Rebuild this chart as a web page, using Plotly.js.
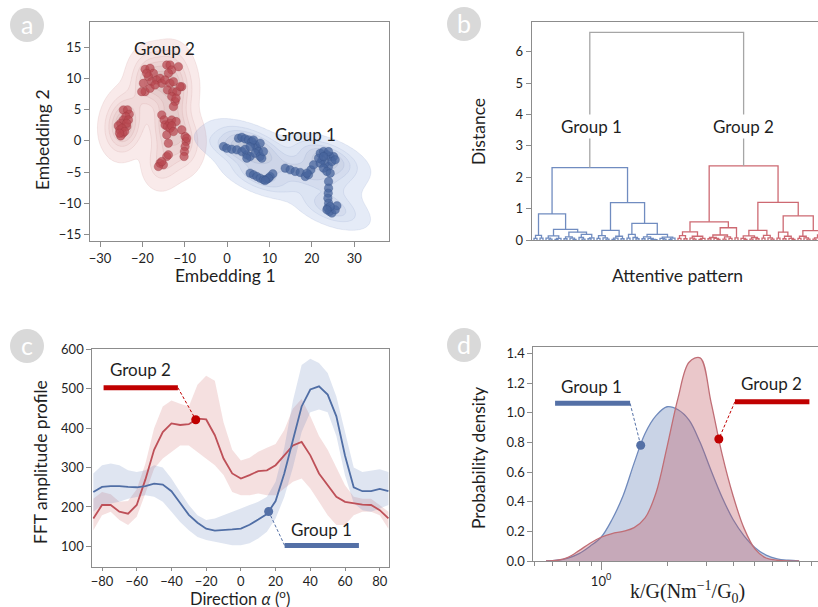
<!DOCTYPE html>
<html>
<head>
<meta charset="utf-8">
<script src="https://cdn.plot.ly/plotly-3.0.1.min.js"></script>
<style>
  html, body { margin: 0; padding: 0; background: #ffffff; }
  #chart { width: 818px; height: 607px; }
</style>
</head>
<body>
<div id="chart"></div>
<script>
// ---------------- (a) 2-D embedding of the attentive patterns ----------------
const group2EmbX = [-24.5,-23.5,-23.1,-23.9,-24.5,-25.1,-25.7,-25.3,-24.6,-25.1,-23.7,-23.3,-23.7,-24.8,-24.2,-25.4,
  -19.37,-18.19,-17.4,-18.58,-17.8,-19.76,-19.37,-18.19,-16.61,-15.83,-15.43,-14.25,-13.46,-13.07,-13.86,-14.64,
  -13.46,-14.09,-12.83,-11.89,-11.49,-10.71,-13.07,-12.28,-12.67,-12.05,-18.98,-17.0,-20.16,-11.1,-12.67,
  -15.43,-14.88,-14.64,-14.09,-13.46,-13.07,-12.05,-13.46,-14.25,-13.86,-13.07,-10.71,-9.92,-9.68,-9.92,-10.08,
  -10.16,-9.53,-12.67,-15.83,-15.04,-14.25,-13.86,-16.22,-15.43];
const group2EmbY = [4.95,4.95,4.26,3.88,3.35,2.82,2.4,1.76,1.23,0.8,2.3,3.35,2.82,2.02,1.49,1.23,
  11.44,11.6,10.8,10.27,9.47,9.2,7.87,8.4,9.74,10.0,9.2,12.13,12.13,11.33,10.8,9.74,
  9.2,8.14,7.87,7.87,11.86,8.67,7.08,6.28,5.48,6.81,10.8,8.94,7.87,8.67,9.47,
  4.15,3.35,2.55,2.29,2.82,3.35,3.09,2.02,0.96,-0.37,2.4,1.76,0.69,-0.11,-0.9,-1.7,
  -2.5,0.43,1.49,-3.56,-3.83,-2.5,-2.23,-4.1,-3.3];
const group1EmbX = [-0.86,-0.08,1.1,2.28,3.47,4.65,5.43,2.68,3.47,4.25,5.04,5.83,6.62,7.01,7.4,6.62,7.8,8.19,4.65,4.25,5.43,6.22,7.8,8.58,
  5.43,6.22,7.01,7.8,8.58,9.37,10.16,10.79,9.77,8.98,
  13.7,14.88,16.06,17.25,18.43,19.21,19.77,18.82,20.4,
  21.97,22.76,23.54,24.33,25.12,22.36,23.15,23.94,21.97,21.58,22.76,24.73,25.51,23.54,24.33,23.94,22.76,
  23.94,23.94,23.86,23.78,23.94,23.7,24.17,24.73,25.51,25.91,24.33,23.54];
const group1EmbY = [-0.9,-1.17,-1.33,-1.43,-1.7,-2.23,-2.5,0.43,0.59,0.32,0.16,-0.11,-0.64,-1.17,-1.7,-1.97,-2.5,-2.76,-2.76,-1.33,-0.9,0.16,-0.37,-1.7,
  -5.16,-5.42,-5.69,-5.96,-6.22,-6.12,-5.69,-5.26,-5.96,-6.33,
  -4.36,-4.63,-4.89,-5.05,-5.69,-5.42,-4.63,-5.16,-3.83,
  -1.97,-1.7,-2.23,-2.5,-2.5,-3.03,-3.56,-4.1,-3.56,-2.76,-4.36,-3.3,-3.03,-4.89,-5.16,-1.7,-2.5,
  -6.49,-7.55,-8.35,-9.15,-9.95,-10.74,-11.28,-11.54,-11.01,-10.37,-10.48,-11.01];

// ---------------- (b) hierarchical clustering: node = [height, left, right], leaf = 0 ----------------
const group1Tree = [2.31,
  [0.83,
    [0.15, [0.05,0,0], [0.06,0,0]],
    [0.34,
      [0.13, [0.06,0,[0.03,0,0]], [0.05,[0.02,0,0],0]],
      [0.25,
        [0.10, [0.04,0,0], [0.06,0,[0.02,0,0]]],
        [0.18, [0.08,0,[0.03,0,0]], [0.07,[0.04,0,0],0]]]]],
  [1.19,
    [0.31, [0.14,[0.05,0,0],[0.07,0,[0.03,0,0]]], [0.12,[0.06,[0.02,0,0],0],[0.04,0,0]]],
    [0.53,
      [0.18, [0.06,0,0], [0.08,0,[0.04,0,0]]],
      [0.18, [0.10,[0.04,0,0],[0.05,0,[0.02,0,[0.01,0,0]]]], [0.09,[0.05,0,[0.03,0,0]],[0.06,[0.02,0,0],0]]]]]];
const group2Tree = [2.36,
  [0.58,
    [0.26, [0.14,[0.05,0,0],[0.04,0,0]], [0.12,[0.06,0,[0.03,0,0]],[0.05,[0.02,0,0],0]]],
    [0.39,
      [0.16, [0.08,[0.04,0,0],[0.05,0,[0.02,0,0]]], [0.10,[0.03,0,0],[0.05,0,0]]],
      [0.07,0,0]]],
  [1.20,
    [0.31,
      [0.13, [0.05,0,[0.02,0,0]], [0.08,[0.03,0,0],[0.04,0,0]]],
      [0.15, [0.06,0,0], [0.07,0,[0.03,0,0]]]],
    [0.77,
      [0.25, [0.06,0,0], [0.12,[0.04,0,0],[0.05,0,[0.02,0,0]]]],
      [0.30,
        [0.12, [0.05,0,0], [0.07,0,[0.03,0,0]]],
        [0.16, [0.07,[0.03,0,0],[0.04,0,0]], [0.09,[0.05,0,0],[0.06,0,[0.02,0,0]]]]]]]];
const rootHeight = 6.62;

// ---------------- (c) FFT amplitude profile vs direction ----------------
const directionDeg = [-85,-80,-75,-70,-65,-60,-55,-50,-45,-40,-35,-30,-25,-20,-15,-10,-5,0,5,10,15,20,25,30,35,40,45,50,55,60,65,70,75,80,85];
const g1Mean  = [238,251,253,253,251,250,253,259,257,240,210,180,160,145,140,141,143,145,155,168,182,215,285,370,455,498,506,485,430,330,250,240,240,246,240];
const g1Upper = [285,306,310,306,293,289,293,306,300,272,238,205,179,167,171,179,188,196,205,213,226,264,350,470,560,576,565,540,480,390,300,289,293,296,289];
const g1Lower = [188,205,209,213,221,226,230,226,213,188,162,141,124,116,112,108,103,103,108,120,137,171,225,300,390,440,447,440,380,280,210,192,188,196,205];
const g2Mean  = [171,205,205,188,183,205,270,345,390,412,408,410,424,422,382,323,285,272,281,291,293,306,331,356,365,331,285,255,226,213,209,206,205,192,171];
const g2Upper = [221,238,232,213,215,245,310,400,455,470,462,455,510,533,520,415,345,318,325,340,350,360,395,450,474,430,380,345,300,255,226,221,221,205,188];
const g2Lower = [141,179,188,167,154,175,235,297,323,340,356,356,340,323,306,281,238,230,230,234,230,230,247,264,272,247,213,179,154,154,179,188,188,179,145];

// ---------------- (d) conductance-normalised stiffness distribution ----------------
const stiffness = [0.562,0.631,0.708,0.794,0.891,1.0,1.122,1.259,1.413,1.585,1.778,1.995,2.239,2.512,2.818,3.162,3.548,3.981,4.467,5.012,5.623,6.310,7.079,7.943];
const g1Density = [0.0,0.005,0.02,0.05,0.10,0.16,0.28,0.44,0.66,0.86,0.98,1.04,1.02,0.95,0.80,0.61,0.43,0.28,0.17,0.09,0.04,0.015,0.005,0.0];
const g2Density = [0.0,0.005,0.025,0.07,0.12,0.16,0.185,0.20,0.225,0.29,0.46,0.77,1.10,1.34,1.37,1.07,0.72,0.44,0.22,0.08,0.02,0.005,0.0,0.0];

// ---------------- helpers ----------------
const W = 818, H = 607;
const px = v => v / W;
const py = v => 1 - v / H;

const BLUE = 'rgb(80,110,165)';
const RED = 'rgb(190,80,88)';
const AXIS = '#8c8c8c';
const TXT = '#1f1f1f';
const FONT = 'Lato, "Open Sans", sans-serif';

// Gaussian KDE (Scott bandwidth, full covariance), normalised to its peak
function kde(xs, ys, gx, gy) {
  const n = xs.length;
  const mx = xs.reduce((a, b) => a + b, 0) / n;
  const my = ys.reduce((a, b) => a + b, 0) / n;
  let sxx = 0, syy = 0, sxy = 0;
  for (let i = 0; i < n; i++) {
    const dx = xs[i] - mx, dy = ys[i] - my;
    sxx += dx * dx; syy += dy * dy; sxy += dx * dy;
  }
  sxx /= n - 1; syy /= n - 1; sxy /= n - 1;
  const f2 = Math.pow(n, -1 / 3);
  const a = sxx * f2, b = sxy * f2, d = syy * f2;
  const det = a * d - b * b;
  const ia = d / det, ib = -b / det, id = a / det;
  const z = [];
  let zmax = 0;
  for (let j = 0; j < gy.length; j++) {
    const row = [];
    for (let i = 0; i < gx.length; i++) {
      let s = 0;
      for (let k = 0; k < n; k++) {
        const dx = gx[i] - xs[k], dy = gy[j] - ys[k];
        s += Math.exp(-0.5 * (ia * dx * dx + 2 * ib * dx * dy + id * dy * dy));
      }
      row.push(s);
      if (s > zmax) zmax = s;
    }
    z.push(row);
  }
  return z.map(r => r.map(v => v / zmax));
}

const gridX = [], gridY = [];
for (let v = -33; v <= 39; v += 0.4) gridX.push(v);
for (let v = -17; v <= 20; v += 0.4) gridY.push(v);

// nested level fills are drawn on top of each other, so each tint is kept faint
function contourTrace(xs, ys, scale, lineColor) {
  return {
    type: 'contour', x: gridX, y: gridY, z: kde(xs, ys, gridX, gridY),
    xaxis: 'x', yaxis: 'y', showscale: false, hoverinfo: 'skip',
    colorscale: scale,
    contours: { coloring: 'fill', start: 0.05, end: 0.86, size: 0.16, showlines: true },
    line: { color: lineColor, width: 0.6, smoothing: 1 }
  };
}

// walk a tree, returning its position and adding its links to xs/ys
function placeTree(node, counter, xs, ys) {
  if (node === 0) return { x: counter.i++, h: 0 };
  const [h, l, r] = node;
  const a = placeTree(l, counter, xs, ys);
  const b = placeTree(r, counter, xs, ys);
  xs.push(a.x, a.x, b.x, b.x, null);
  ys.push(a.h, h, h, b.h, null);
  return { x: (a.x + b.x) / 2, h: h };
}

function interp(xs, ys, x) {
  for (let i = 0; i < xs.length - 1; i++) {
    if (x >= xs[i] && x <= xs[i + 1]) {
      const t = (x - xs[i]) / (xs[i + 1] - xs[i]);
      return ys[i] + t * (ys[i + 1] - ys[i]);
    }
  }
  return ys[ys.length - 1];
}

const traces = [];

// ---- panel a ----
traces.push(contourTrace(group2EmbX, group2EmbY, [
  [0, 'rgba(220,140,140,0)'], [1/6, 'rgba(225,150,150,0.2)'], [2/6, 'rgba(205,125,125,0.07)'],
  [3/6, 'rgba(195,120,120,0.07)'], [4/6, 'rgba(170,130,130,0.07)'], [5/6, 'rgba(150,130,130,0.07)'], [1, 'rgba(140,130,130,0.07)']
], 'rgba(185,115,115,0.22)'));
traces.push(contourTrace(group1EmbX, group1EmbY, [
  [0, 'rgba(120,150,210,0)'], [1/6, 'rgba(125,155,215,0.2)'], [2/6, 'rgba(110,135,195,0.07)'],
  [3/6, 'rgba(110,130,180,0.07)'], [4/6, 'rgba(120,128,150,0.07)'], [5/6, 'rgba(125,128,140,0.07)'], [1, 'rgba(125,128,135,0.07)']
], 'rgba(110,135,185,0.22)'));
traces.push({
  type: 'scatter', mode: 'markers', x: group2EmbX, y: group2EmbY, xaxis: 'x', yaxis: 'y', hoverinfo: 'skip',
  marker: { size: 8.5, color: 'rgba(185,72,80,0.72)', line: { color: 'rgba(150,50,58,0.5)', width: 0.6 } }
});
traces.push({
  type: 'scatter', mode: 'markers', x: group1EmbX, y: group1EmbY, xaxis: 'x', yaxis: 'y', hoverinfo: 'skip',
  marker: { size: 8.5, color: 'rgba(72,102,158,0.75)', line: { color: 'rgba(50,78,130,0.5)', width: 0.6 } }
});

// ---- panel b ----
const counter = { i: 0 };
const d1x = [], d1y = [], d2x = [], d2y = [];
const top1 = placeTree(group1Tree, counter, d1x, d1y);
const top2 = placeTree(group2Tree, counter, d2x, d2y);
traces.push({ type: 'scatter', mode: 'lines', x: d1x, y: d1y, xaxis: 'x2', yaxis: 'y2', hoverinfo: 'skip',
  line: { color: 'rgb(112,140,192)', width: 1.3 } });
traces.push({ type: 'scatter', mode: 'lines', x: d2x, y: d2y, xaxis: 'x2', yaxis: 'y2', hoverinfo: 'skip',
  line: { color: 'rgb(205,105,114)', width: 1.3 } });
traces.push({ type: 'scatter', mode: 'lines', xaxis: 'x2', yaxis: 'y2', hoverinfo: 'skip',
  x: [top1.x, top1.x, top2.x, top2.x], y: [top1.h, rootHeight, rootHeight, top2.h],
  line: { color: '#a6a6a6', width: 1.3 } });

// ---- panel c ----
function band(lower, upper, fill) {
  traces.push({ type: 'scatter', mode: 'lines', x: directionDeg, y: lower, xaxis: 'x3', yaxis: 'y3',
    line: { width: 0, color: fill }, hoverinfo: 'skip' });
  traces.push({ type: 'scatter', mode: 'lines', x: directionDeg, y: upper, xaxis: 'x3', yaxis: 'y3',
    fill: 'tonexty', fillcolor: fill, line: { width: 0, color: fill }, hoverinfo: 'skip' });
}
band(g2Lower, g2Upper, 'rgba(205,100,100,0.2)');
band(g1Lower, g1Upper, 'rgba(95,125,185,0.2)');
traces.push({ type: 'scatter', mode: 'lines', x: directionDeg, y: g2Mean, xaxis: 'x3', yaxis: 'y3',
  line: { color: RED, width: 1.8 }, hoverinfo: 'skip' });
traces.push({ type: 'scatter', mode: 'lines', x: directionDeg, y: g1Mean, xaxis: 'x3', yaxis: 'y3',
  line: { color: BLUE, width: 1.8 }, hoverinfo: 'skip' });

const cRedDot = { x: -26, y: interp(directionDeg, g2Mean, -26) };
const cBlueDot = { x: 16, y: interp(directionDeg, g1Mean, 16) };
// callouts: legend bar, dashed leader and marker
function callout(xa, ya, bar, barY, join, dot, color) {
  traces.push({ type: 'scatter', mode: 'lines', x: bar, y: [barY, barY], xaxis: xa, yaxis: ya,
    line: { color: color, width: 5 }, hoverinfo: 'skip' });
  traces.push({ type: 'scatter', mode: 'lines', x: [join, dot.x], y: [barY, dot.y], xaxis: xa, yaxis: ya,
    line: { color: color, width: 1, dash: '3px,2px' }, hoverinfo: 'skip' });
  traces.push({ type: 'scatter', mode: 'markers', x: [dot.x], y: [dot.y], xaxis: xa, yaxis: ya,
    marker: { color: color, size: 9 }, hoverinfo: 'skip' });
}
callout('x3', 'y3', [-79.1, -36.3], 502.7, -36.3, cRedDot, '#c00000');
callout('x3', 'y3', [25.2, 68.0], 102.4, 25.2, cBlueDot, 'rgb(84,112,166)');

// ---- panel d ----
traces.push({ type: 'scatter', mode: 'lines', x: stiffness, y: g1Density, xaxis: 'x4', yaxis: 'y4',
  fill: 'tozeroy', fillcolor: 'rgba(90,120,180,0.33)', line: { color: 'rgb(112,138,188)', width: 1.3, shape: 'spline' },
  hoverinfo: 'skip' });
traces.push({ type: 'scatter', mode: 'lines', x: stiffness, y: g2Density, xaxis: 'x4', yaxis: 'y4',
  fill: 'tozeroy', fillcolor: 'rgba(190,85,95,0.33)', line: { color: 'rgb(192,110,118)', width: 1.3, shape: 'spline' },
  hoverinfo: 'skip' });
const logK = stiffness.map(v => Math.log10(v));
const dBlueDot = { x: 1.514, y: interp(logK, g1Density, Math.log10(1.514)) };
const dRedDot = { x: 3.43, y: interp(logK, g2Density, Math.log10(3.43)) };
callout('x4', 'y4', [0.618, 1.355], 1.063, 1.355, dBlueDot, 'rgb(84,112,166)');
callout('x4', 'y4', [4.06, 8.85], 1.074, 4.06, dRedDot, '#c00000');

// ---------------- layout ----------------
const tickfont = { family: FONT, size: 13, color: TXT };
const baseAxis = {
  showline: true, linecolor: AXIS, linewidth: 1, ticks: 'outside', ticklen: 5, tickcolor: AXIS,
  showgrid: false, zeroline: false, tickfont: tickfont, fixedrange: true
};
const ax = o => Object.assign({}, baseAxis, o);

function label(text, x, y, size, extra) {
  return Object.assign({ text: text, xref: 'paper', yref: 'paper', x: px(x), y: py(y),
    xanchor: 'center', yanchor: 'middle', showarrow: false,
    font: { family: FONT, size: size, color: TXT } }, extra || {});
}
function dataLabel(text, xa, ya, x, y, extra) {
  return Object.assign({ text: text, xref: xa, yref: ya, x: x, y: y, xanchor: 'center', yanchor: 'middle',
    showarrow: false, font: { family: FONT, size: 17, color: TXT } }, extra || {});
}

const badges = [['a', 27, 25], ['b', 464, 24], ['c', 27, 346], ['d', 464, 345]];
const shapes = badges.map(([, cx, cy]) => ({
  type: 'circle', xref: 'paper', yref: 'paper', x0: px(cx - 17), x1: px(cx + 17), y0: py(cy + 17), y1: py(cy - 17),
  fillcolor: '#d9d9d9', line: { width: 0 }
}));

const annotations = [
  ...badges.map(([t, cx, cy]) => label(t, cx, cy - 1, 25, { font: { family: FONT, size: 25, color: '#ffffff' } })),
  label('Embedding 1', 225, 275, 17.5),
  label('Embedding 2', 42, 140, 17.5, { textangle: -90 }),
  label('Distance', 478, 132, 17.5, { textangle: -90 }),
  label('Attentive pattern', 677, 275, 17.5),
  label('FFT amplitude profile', 40, 462, 17.5, { textangle: -90 }),
  label('Direction <i>α</i> (<sup>o</sup>)', 240, 598, 16.5, { yanchor: 'middle' }),
  label('Probability density', 478, 458, 17.5, { textangle: -90 }),
  label('k/G(Nm<sup>−1</sup>/G<sub>0</sub>)', 687, 592, 20, { font: { family: '"Liberation Serif", "DejaVu Serif", serif', size: 20, color: TXT } }),
  dataLabel('Group 2', 'x', 'y', -14.8, 14.8),
  dataLabel('Group 1', 'x', 'y', 18.4, 1.1),
  dataLabel('Group 1', 'x2', 'y2', 19.2, 3.63, { bgcolor: '#ffffff' }),
  dataLabel('Group 2', 'x2', 'y2', 69.7, 3.63, { bgcolor: '#ffffff' }),
  dataLabel('Group 2', 'x3', 'y3', -57.8, 549),
  dataLabel('Group 1', 'x3', 'y3', 46.4, 144),
  dataLabel('Group 1', 'x4', 'y4', Math.log10(0.908), 1.18),
  dataLabel('Group 2', 'x4', 'y4', Math.log10(5.97), 1.198)
];

const layout = {
  width: W, height: H, margin: { l: 0, r: 0, t: 0, b: 0 },
  paper_bgcolor: '#ffffff', plot_bgcolor: 'rgba(0,0,0,0)', showlegend: false,
  font: { family: FONT, color: TXT },
  xaxis: ax({ domain: [px(90), px(389)], range: [-32.36, 38.2], anchor: 'y', mirror: true, dtick: 10, tick0: 0 }),
  yaxis: ax({ domain: [py(241), py(22)], range: [-16, 19], anchor: 'x', mirror: true, dtick: 5, tick0: 0 }),
  xaxis2: ax({ domain: [px(531.7), 1], range: [-0.77, 94.67], anchor: 'y2', mirror: true,
    ticks: '', showticklabels: false }),
  yaxis2: ax({ domain: [py(240), py(22)], range: [0, 6.95], anchor: 'x2', dtick: 1, tick0: 0 }),
  xaxis3: ax({ domain: [px(92.3), px(389.3)], range: [-85.6, 85.5], anchor: 'y3', mirror: true, dtick: 20, tick0: 0, ticklen: 3 }),
  yaxis3: ax({ domain: [py(566.7), py(349.3)], range: [48.5, 600], anchor: 'x3', mirror: true, dtick: 100, tick0: 0 }),
  xaxis4: ax({ domain: [px(533.3), 1], type: 'log', range: [-0.308, 0.986], anchor: 'y4', mirror: true,
    tickmode: 'array', tickvals: [1], ticktext: ['10<sup>0</sup>'], ticklen: 8,
    minor: { tickmode: 'array', tickvals: [0.5,0.6,0.7,0.8,0.9,2,3,4,5,6,7,8,9], ticks: 'outside', ticklen: 4, tickcolor: AXIS } }),
  yaxis4: ax({ domain: [py(561), py(346.7)], range: [0, 1.445], anchor: 'x4', dtick: 0.2, tick0: 0, tickformat: '.1f' }),
  shapes: shapes,
  annotations: annotations
};

Plotly.newPlot('chart', traces, layout, { displayModeBar: false, staticPlot: true });
</script>
</body>
</html>
